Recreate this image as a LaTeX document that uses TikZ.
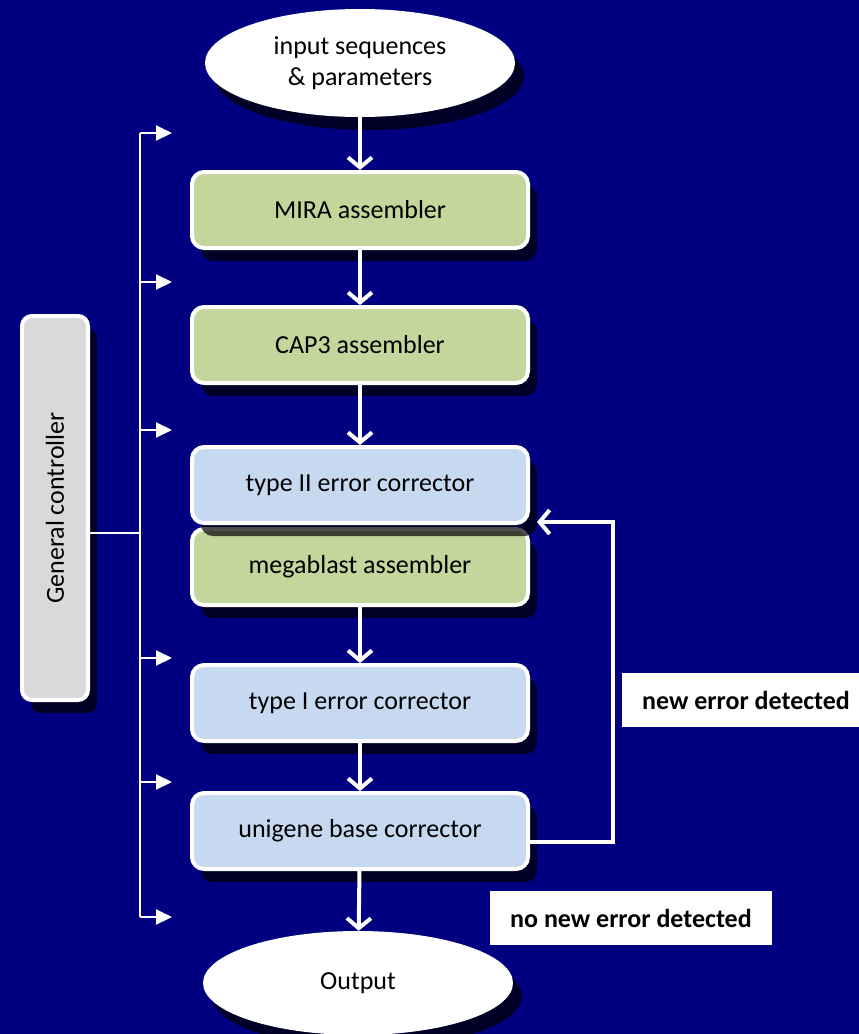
\documentclass[tikz,border=0pt]{standalone}
\usepackage{fontspec}
\setmainfont{Carlito}
\usetikzlibrary{arrows.meta,shapes.geometric,shadows}
\definecolor{navybg}{RGB}{0,0,128}
\definecolor{asmgreen}{RGB}{195,214,155}
\definecolor{corrblue}{RGB}{198,217,241}
\definecolor{ctrlgray}{RGB}{217,217,217}

\begin{document}
\begin{tikzpicture}[x=1pt,y=-1pt,
  font=\fontsize{26}{31}\selectfont,
  shade box/.style={drop shadow={shadow xshift=9pt,shadow yshift=-13pt,fill=black,opacity=.7}},
  stage/.style={rectangle,rounded corners=12pt,draw=white,line width=4pt,minimum width=336pt,minimum height=76pt,shade box},
  asm/.style={stage,fill=asmgreen},
  corr/.style={stage,fill=corrblue},
  term/.style={ellipse,fill=white,minimum width=310pt,minimum height=108pt,shade box,align=center,inner sep=0pt},
  flow/.style={draw=white,line width=4pt,-{Straight Barb[length=10pt,width=24pt]}},
  bus/.style={draw=white,line width=2pt},
  tick/.style={bus,-{Triangle[length=16pt,width=15pt]}},
  verdict/.style={fill=white,font=\fontsize{26}{31}\selectfont\bfseries,minimum height=54pt,inner xsep=20pt}
]
\fill[navybg] (0,0) rectangle (859,1034);
\useasboundingbox (0,0) rectangle (859,1034);

\node[stage,fill=ctrlgray,minimum width=66pt,minimum height=384pt,rounded corners=10pt] (ctrl) at (55,508) {\rotatebox{90}{General controller}};

\coordinate (bustop) at (140,133);
\coordinate (busbot) at (140,917);
\coordinate (busmid) at (140,533);
\draw[bus] (bustop) -- (busbot);
\draw[bus] ([yshift=-25pt]ctrl.east) -- (busmid);
\foreach \y [count=\i] in {133,282,430,658,782,917}{
  \coordinate (tap\i) at (140,\y);
  \coordinate (feed\i) at (172,\y);
  \draw[tick] (tap\i) -- (feed\i);
}

\node[term] (input) at (360,63) {input sequences\\\& parameters};
\node[asm] (mira) at (360,210) {MIRA assembler};
\node[asm] (cap3) at (360,345) {CAP3 assembler};
\node[asm] (mega) at (360,567) {megablast assembler};
\node[corr] (typeII) at (360,485) {type II error corrector};
\node[corr] (typeI) at (360,703) {type I error corrector};
\node[corr] (unigene) at (360,831) {unigene base corrector};
\node[term,minimum height=104pt] (output) at (358,983) {Output};

\draw[flow] (input) -- (mira);
\draw[flow] (mira) -- (cap3);
\draw[flow] (cap3) -- (typeII);
\draw[flow] (mega) -- (typeI);
\draw[flow] (typeI) -- (unigene);
\draw[flow] (unigene) -- (output);
\draw[flow] ([yshift=-11pt]unigene.east) -- ++(83,0) |- ([xshift=7pt,yshift=3pt]typeII.south east);

\node[verdict,anchor=west] (newerr) at (622,700) {new error detected};
\node[verdict] (nonew) at (631,918) {no new error detected};
\end{tikzpicture}
\end{document}
